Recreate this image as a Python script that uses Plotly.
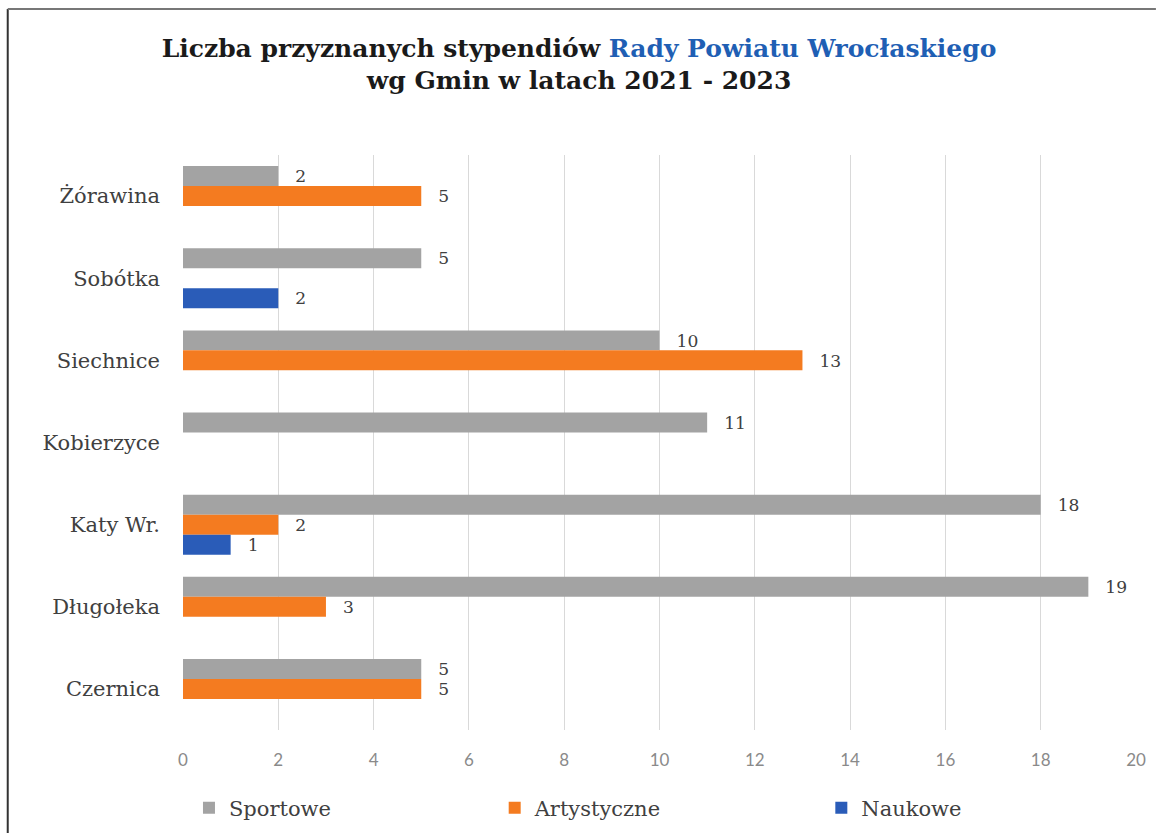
import plotly.graph_objects as go

categories = ["Żórawina", "Sobótka", "Siechnice", "Kobierzyce", "Katy Wr.", "Długołeka", "Czernica"]
sportowe = [2, 5, 10, 11, 18, 19, 5]
artystyczne = [5, 0, 13, 0, 2, 3, 5]
naukowe = [0, 2, 0, 0, 1, 0, 0]
x_ticks = [0, 2, 4, 6, 8, 10, 12, 14, 16, 18, 20]

series = [
    ("Sportowe", sportowe, "#a3a3a3", "legend"),
    ("Artystyczne", artystyczne, "#f47b20", "legend2"),
    ("Naukowe", naukowe, "#2a5cb8", "legend3"),
]

SERIF = "DejaVu Serif"

fig = go.Figure()
for name, vals, color, lg in series:
    fig.add_trace(go.Bar(
        name=name, y=categories, x=vals, orientation="h",
        marker=dict(color=color, line=dict(width=0)),
        text=["\u2002 " + str(v) if v else "" for v in vals],
        textposition="outside", cliponaxis=False,
        textfont=dict(family=SERIF, size=18, color="#404040"),
        legend=lg, showlegend=True,
    ))

legend_common = dict(orientation="h", yref="container", y=0.03, yanchor="middle",
                     xanchor="left", font=dict(family=SERIF, size=21, color="#404040"),
                     bgcolor="rgba(0,0,0,0)", itemwidth=30, visible=True)

PX = 957  # plot-area width in px, for paper-coordinate conversions
PY = 575

fig.update_layout(
    width=1158, height=833,
    showlegend=True,
    paper_bgcolor="white", plot_bgcolor="white",
    margin=dict(l=183, r=18, t=155, b=103),
    barmode="group", bargap=0.27, bargroupgap=0.0,
    title=dict(
        text="<b>Liczba przyznanych stypendiów <span style='color:#1f5fb4'>Rady Powiatu Wrocłaskiego</span><br>wg Gmin w latach 2021 - 2023</b>",
        x=0.5, xref="container", xanchor="center",
        y=0.932, yref="container", yanchor="middle",
        font=dict(family=SERIF, size=25, color="#1a1a1a"),
    ),
    xaxis=dict(range=[0, 20], tickvals=x_ticks, showgrid=True, gridcolor="#d9d9d9",
               gridwidth=1, zeroline=False, showline=False,
               tickfont=dict(family="Lato", size=17, color="#8a8a8a"), ticks="",
               ticklabelstandoff=18),
    yaxis=dict(autorange="reversed", showgrid=False, showline=False, ticks="",
               tickfont=dict(family=SERIF, size=21, color="#404040"), ticklabelstandoff=22),
    legend=dict(x=(189 - 183) / PX, **legend_common),
    legend2=dict(x=(496 - 183) / PX, **legend_common),
    legend3=dict(x=(824 - 183) / PX, **legend_common),
    shapes=[
        dict(type="line", xref="paper", yref="paper",
             x0=(7 - 183) / PX, x1=(7 - 183) / PX,
             y0=-(833 - 730 + 5) / PY, y1=1 + (155 - 9) / PY,
             line=dict(color="#333333", width=2)),
        dict(type="line", xref="paper", yref="paper",
             x0=(7 - 183) / PX, x1=(1160 - 183) / PX,
             y0=1 + (155 - 9) / PY, y1=1 + (155 - 9) / PY,
             line=dict(color="#777777", width=2)),
    ],
)

fig.write_html("out.html", config={"displayModeBar": False},
               post_script="document.body.style.margin='0';document.body.style.overflow='hidden';")
